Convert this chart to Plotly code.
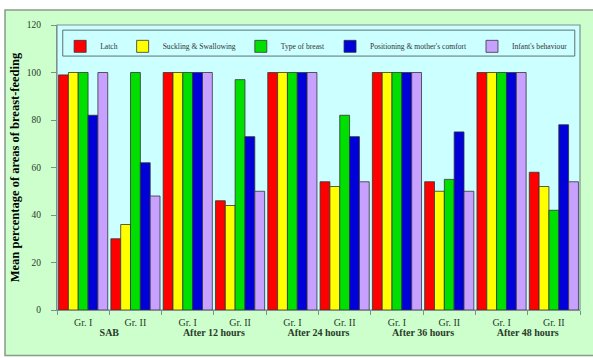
import plotly.graph_objects as go

# Time points and groups
periods = ["SAB", "After 12 hours", "After 24 hours", "After 36 hours", "After 48 hours"]
groups = ["Gr. I", "Gr. II"]

series_names = ["Latch", "Suckling & Swallowing", "Type of breast",
                "Positioning & mother's comfort", "Infant's behaviour"]
series_colors = ["#ff0000", "#ffff00", "#00e000", "#0000d8", "#c8a0ff"]

# Mean percentage per area, ordered SAB Gr.I, SAB Gr.II, 12h Gr.I, 12h Gr.II, ...
latch = [99, 30, 100, 46, 100, 54, 100, 54, 100, 58]
suckling = [100, 36, 100, 44, 100, 52, 100, 50, 100, 52]
type_breast = [100, 100, 100, 97, 100, 82, 100, 55, 100, 42]
positioning = [82, 62, 100, 73, 100, 73, 100, 75, 100, 78]
infant = [100, 48, 100, 50, 100, 54, 100, 50, 100, 54]
series_values = [latch, suckling, type_breast, positioning, infant]

y_ticks = [0, 20, 40, 60, 80, 100, 120]

x_outer = [f"<b>{p}</b>" for p in periods for _ in groups]
x_inner = [g for _ in periods for g in groups]

fig = go.Figure()
for name, color, vals in zip(series_names, series_colors, series_values):
    fig.add_trace(go.Bar(
        x=[x_outer, x_inner], y=vals, name=name,
        marker=dict(color=color, line=dict(color="#333333", width=0.8)),
    ))

serif = "Liberation Serif, Times New Roman, serif"

fig.update_layout(
    width=593, height=358,
    margin=dict(l=57, r=13, t=25, b=48),
    paper_bgcolor="white",
    plot_bgcolor="rgba(0,0,0,0)",
    barmode="group", bargap=0.06, bargroupgap=0,
    font=dict(family=serif, size=9, color="#2a3a2a"),
    showlegend=True,
    legend=dict(
        orientation="h", x=0.006, y=0.976, xanchor="left", yanchor="top",
        bgcolor="rgba(0,0,0,0)", borderwidth=0,
        font=dict(family=serif, size=7.6, color="#333333"),
        itemwidth=30, tracegroupgap=0,
    ),
    shapes=[
        # outer chart frame
        dict(type="rect", xref="paper", yref="paper",
             x0=-0.0994, x1=1.03, y0=-0.16, y1=1.0526,
             fillcolor="#ccffcc", line=dict(color="#8a9a8a", width=1.5),
             layer="below"),
        # plot area
        dict(type="rect", xref="paper", yref="paper",
             x0=0, x1=1, y0=0, y1=1,
             fillcolor="#ccffff", line=dict(color="#7f8f8f", width=1.2),
             layer="below"),
        # legend box
        dict(type="rect", xref="paper", yref="paper",
             x0=0.011, x1=0.99, y0=0.891, y1=0.982,
             fillcolor="rgba(0,0,0,0)", line=dict(color="#5f7070", width=1),
             layer="above"),
    ],
)

fig.update_xaxes(
    type="multicategory", showdividers=False, tickson="boundaries",
    showline=True, linecolor="#7f8f8f",
    ticks="outside", ticklen=4, tickcolor="#7f8f8f",
    ticklabelstandoff=3,
    tickfont=dict(family=serif, size=10, color="#2a3a2a"),
    showgrid=False,
)
fig.update_yaxes(
    range=[0, 120], tickvals=y_ticks,
    showline=True, linecolor="#7f8f8f",
    ticks="outside", ticklen=5, tickcolor="#7f8f8f",
    ticklabelstandoff=8,
    tickfont=dict(family=serif, size=9.5, color="#2a3a2a"),
    showgrid=False, zeroline=False,
    title=dict(text="<b>Mean percentage of areas of breast-feeding</b>",
               font=dict(family=serif, size=12.5, color="#000000"), standoff=4),
)

fig.write_html("out.html")
